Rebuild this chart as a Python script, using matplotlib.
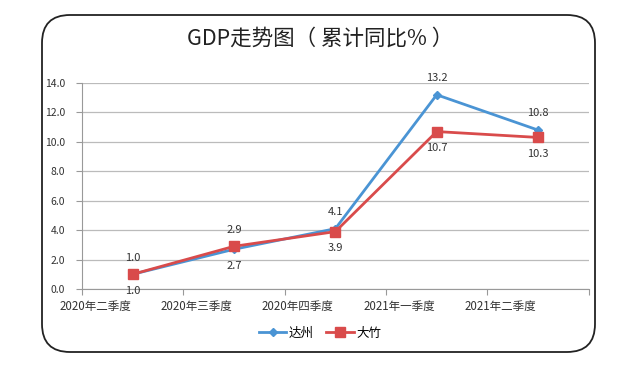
import matplotlib
matplotlib.use("Agg")
from matplotlib import pyplot as plt
from matplotlib.patches import FancyBboxPatch

plt.rcParams['font.family'] = ['Noto Sans CJK SC', 'DejaVu Sans']

quarters = ["2020年二季度", "2020年三季度", "2020年四季度", "2021年一季度", "2021年二季度"]
dazhou = [1.0, 2.7, 4.1, 13.2, 10.8]
dazhu = [1.0, 2.9, 3.9, 10.7, 10.3]
# label above (+1) or below (-1) the point
dazhou_side = [1, -1, 1, 1, 1]
dazhu_side = [-1, 1, -1, -1, -1]

blue = '#4A94D4'
red = '#D94B4B'

fig = plt.figure(figsize=(6.4, 3.66), dpi=100)
ax = fig.add_axes([0.128, 0.2104, 0.792, 0.5628])

# rounded frame round the whole chart
frame = FancyBboxPatch((0.42, 0.14), 5.53, 3.37,
                       boxstyle="round,pad=0,rounding_size=0.28",
                       transform=fig.dpi_scale_trans, fill=False,
                       edgecolor='#222222', linewidth=1.3)
fig.patches.append(frame)

x = list(range(len(quarters)))
ax.plot(x, dazhou, color=blue, linewidth=2, marker='D', markersize=4.5,
        label='达州', zorder=3)
ax.plot(x, dazhu, color=red, linewidth=2, marker='s', markersize=6.5,
        label='大竹', zorder=4)

for xi, v, s in zip(x, dazhou, dazhou_side):
    ax.annotate(f"{v:.1f}", (xi, v), xytext=(0, 12 * s), textcoords='offset points',
                ha='center', va='center', fontsize=8, color='#333333')
for xi, v, s in zip(x, dazhu, dazhu_side):
    ax.annotate(f"{v:.1f}", (xi, v), xytext=(0, 12 * s), textcoords='offset points',
                ha='center', va='center', fontsize=8, color='#333333')

ax.set_xlim(-0.5, 4.5)
ax.set_ylim(0, 14)
ax.set_yticks(range(0, 15, 2))
ax.set_yticklabels([f"{v:.1f}" for v in range(0, 15, 2)], fontsize=7.5, color='#333333')
ax.grid(axis='y', color='#BBBBBB', linewidth=0.9)
ax.set_axisbelow(True)

ax.set_xticks([i - 0.5 for i in range(len(quarters) + 1)])
ax.set_xticklabels([])
ax.set_xticks([i - 0.37 for i in x], minor=True)
ax.set_xticklabels(quarters, minor=True, fontsize=8.3, color='#333333')
ax.tick_params(axis='x', which='minor', length=0, pad=8)
ax.tick_params(axis='x', which='major', length=4, color='#999999')
ax.tick_params(axis='y', length=4, color='#999999', pad=8)

for side in ['top', 'right']:
    ax.spines[side].set_visible(False)
ax.spines['left'].set_color('#999999')
ax.spines['bottom'].set_color('#999999')

fig.text(0.5, 0.895, "GDP走势图（ 累计同比% ）", ha='center', va='center',
         fontsize=15.5, color='#222222')

fig.legend(loc='center', bbox_to_anchor=(0.5, 0.09), ncol=2, frameon=False,
           fontsize=9, handlelength=2.2, columnspacing=1.0, handletextpad=0.2)

fig.savefig("out.png", dpi=100)
